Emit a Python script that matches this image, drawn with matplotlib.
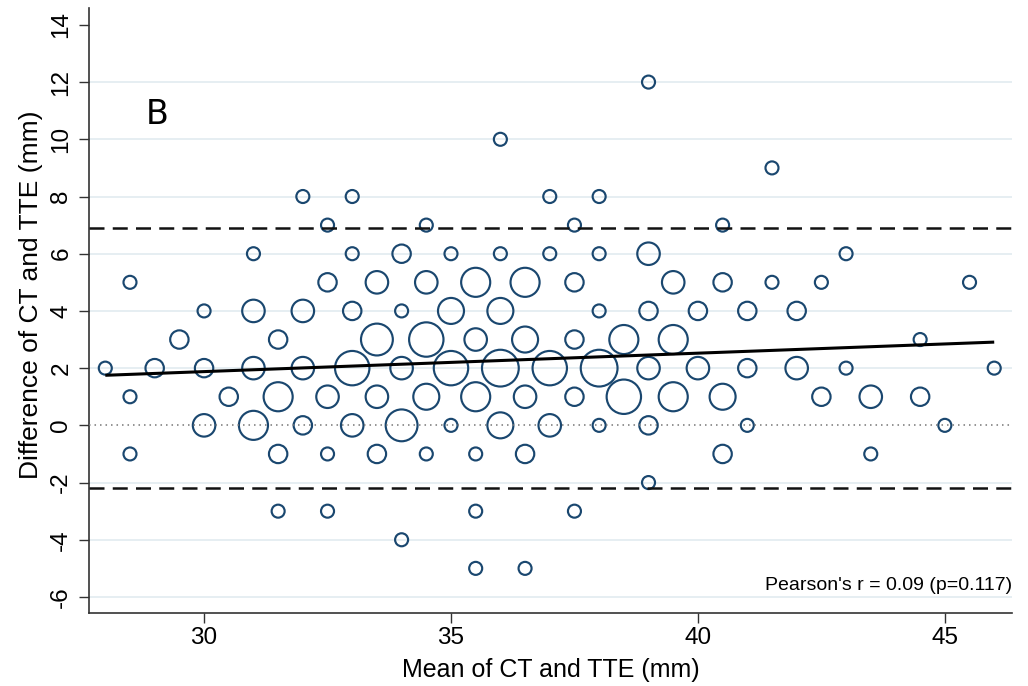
import numpy as np
import matplotlib
matplotlib.use("Agg")
import matplotlib.pyplot as plt

plt.rcParams['font.family'] = ['Liberation Sans', 'DejaVu Sans']
plt.rcParams['axes.unicode_minus'] = False

# ---- data: (mean of CT & TTE, difference CT - TTE, number of observations) ----
mean_vals = [
    39,
    36,
    41.5,
    32, 33, 37, 38,
    32.5, 34.5, 37.5, 40.5,
    31, 33, 34, 35, 36, 37, 38, 39, 43,
    28.5, 32.5, 33.5, 34.5, 35.5, 36.5, 37.5, 39.5, 40.5, 41.5, 42.5, 45.5,
    30, 31, 32, 33, 34, 35, 36, 38, 39, 40, 41, 42,
    29.5, 31.5, 33.5, 34.5, 35.5, 36.5, 37.5, 38.5, 39.5, 44.5,
    28, 29, 30, 31, 32, 33, 34, 35, 36, 37, 38, 39, 40, 41, 42, 43, 46,
    28.5, 30.5, 31.5, 32.5, 33.5, 34.5, 35.5, 36.5, 37.5, 38.5, 39.5, 40.5, 42.5, 43.5, 44.5,
    30, 31, 32, 33, 34, 35, 36, 37, 38, 39, 41, 45,
    28.5, 31.5, 32.5, 33.5, 34.5, 35.5, 36.5, 40.5, 43.5,
    39,
    31.5, 32.5, 35.5, 37.5,
    34,
    35.5, 36.5,
]
diff_vals = (
    [12] + [10] + [9] + [8] * 4 + [7] * 4 + [6] * 9 + [5] * 12 + [4] * 12 +
    [3] * 10 + [2] * 17 + [1] * 15 + [0] * 12 + [-1] * 9 + [-2] + [-3] * 4 +
    [-4] + [-5] * 2
)
counts = [
    1,
    1,
    1,
    1, 1, 1, 1,
    1, 1, 1, 1,
    1, 1, 2, 1, 1, 1, 1, 3, 1,
    1, 2, 3, 3, 5, 5, 2, 3, 2, 1, 1, 1,
    1, 3, 3, 2, 1, 4, 4, 1, 2, 2, 2, 2,
    2, 2, 6, 7, 3, 4, 2, 5, 5, 1,
    1, 2, 2, 3, 3, 7, 3, 7, 8, 7, 8, 3, 3, 2, 3, 1, 1,
    1, 2, 5, 3, 3, 4, 5, 3, 2, 7, 5, 4, 2, 3, 2,
    3, 5, 2, 3, 6, 1, 4, 3, 1, 2, 1, 1,
    1, 2, 1, 2, 1, 1, 2, 2, 1,
    1,
    1, 1, 1, 1,
    1,
    1, 1,
]

# limits of agreement and reference line
loa_upper = 6.9
loa_lower = -2.2
zero_line = 0

# regression line of difference on mean
fit_x = [28, 46]
fit_y = [1.75, 2.91]

y_ticks = [-6, -4, -2, 0, 2, 4, 6, 8, 10, 12, 14]
x_ticks = [30, 35, 40, 45]
panel_label = "B"
stat_text = "Pearson's r = 0.09 (p=0.117)"
x_label = "Mean of CT and TTE (mm)"
y_label = "Difference of CT and TTE (mm)"

x = np.array(mean_vals, dtype=float)
y = np.array(diff_vals, dtype=float)
w = np.array(counts, dtype=float)

W, H = 1028, 686
fig = plt.figure(figsize=(W / 100, H / 100), dpi=100)
L, R, T, B = 89, 1012, 8, 613
ax = fig.add_axes([L / W, 1 - B / H, (R - L) / W, (B - T) / H])

navy = '#1a476f'
grid_c = '#e6eef2'

ax.set_xlim(27.67, 46.36)
ax.set_ylim(-6.56, 14.59)

for yt in y_ticks:
    if yt in (0, 14):
        continue
    ax.axhline(yt, color=grid_c, lw=1.4, zorder=0)

ax.scatter(x, y, s=87.6 * w, facecolors='none', edgecolors=navy,
           linewidths=1.55, zorder=2)

ax.axhline(zero_line, color='#777777', lw=1.1, linestyle=(0, (1, 2.6)), zorder=3)
ax.axhline(loa_upper, color='#111111', lw=1.8, linestyle=(0, (6, 3.3)), zorder=3)
ax.axhline(loa_lower, color='#111111', lw=1.8, linestyle=(0, (6, 3.3)), zorder=3)
ax.plot(fit_x, fit_y, color='black', lw=2.2, zorder=4, solid_capstyle='butt')

for side in ('top', 'right'):
    ax.spines[side].set_visible(False)
for side in ('left', 'bottom'):
    ax.spines[side].set_color('#333333')
    ax.spines[side].set_linewidth(1.2)

ax.set_yticks(y_ticks)
ax.set_xticks(x_ticks)
ax.tick_params(axis='both', direction='out', length=7, width=1.0, color='#333333',
               labelsize=17.5)
ax.tick_params(axis='x', pad=3)
ax.tick_params(axis='y', pad=5, labelrotation=90)
for lab in ax.get_yticklabels():
    lab.set_va('center')

ax.set_xlabel(x_label, fontsize=18)
ax.xaxis.set_label_coords(0.5, -0.074)
ax.set_ylabel(y_label, fontsize=19)
ax.yaxis.set_label_coords(-0.05, 0.526)

ax.text(29.05, 10.86, panel_label, fontsize=24, ha='center', va='center',
        family='DejaVu Sans')
ax.text(1.0, 0.038, stat_text, transform=ax.transAxes, ha='right',
        va='baseline', fontsize=14)

fig.savefig('out.png', dpi=100)
